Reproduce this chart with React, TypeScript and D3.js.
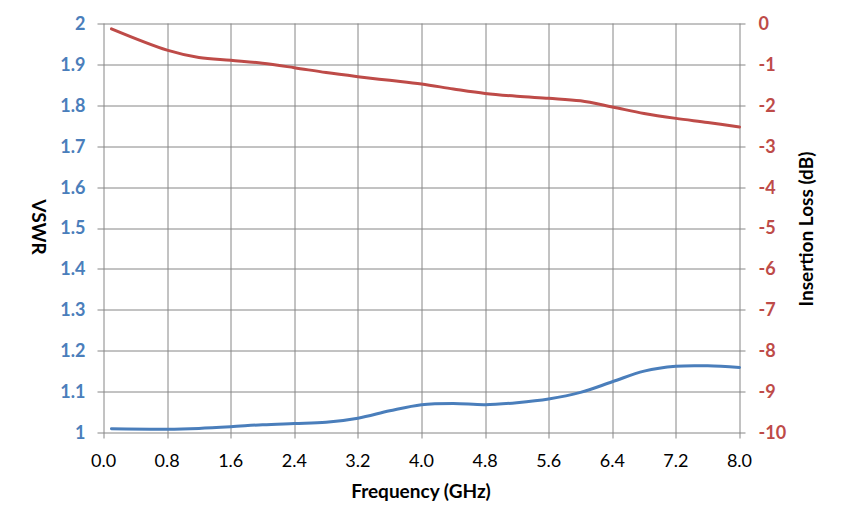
import { useEffect, useRef } from "react"
import * as d3 from "d3"

const freq = [0.1, 0.8, 1.2, 1.6, 2.0, 2.4, 2.8, 3.2, 3.6, 4.0, 4.4, 4.8, 5.2, 5.6, 6.0, 6.4, 6.8, 7.2, 7.6, 8.0]
const vswr = [1.009, 1.008, 1.010, 1.014, 1.019, 1.022, 1.025, 1.035, 1.053, 1.068, 1.071, 1.068, 1.073, 1.082, 1.098, 1.124, 1.150, 1.162, 1.163, 1.159]
const insertionLoss = [-0.13, -0.65, -0.83, -0.9, -0.97, -1.08, -1.2, -1.3, -1.39, -1.48, -1.6, -1.71, -1.78, -1.83, -1.89, -2.04, -2.2, -2.32, -2.42, -2.53]

const xTicks = [0, 0.8, 1.6, 2.4, 3.2, 4.0, 4.8, 5.6, 6.4, 7.2, 8.0]
const vswrTicks = [1, 1.1, 1.2, 1.3, 1.4, 1.5, 1.6, 1.7, 1.8, 1.9, 2]
const lossTicks = [0, -1, -2, -3, -4, -5, -6, -7, -8, -9, -10]

const BLUE = "#4A7EBB"
const RED = "#BE4B48"
const GRID = "#868686"
const FONT = "Lato, 'Open Sans', sans-serif"

export default function App() {
  const svgRef = useRef<SVGSVGElement>(null)

  useEffect(() => {
    document.body.style.margin = "0"
    if (!svgRef.current) return
    d3.select(svgRef.current).selectAll("*").remove()

    const W = 844
    const H = 529
    const margin = { top: 23.5, right: 104.5, bottom: 96.5, left: 103.5 }
    const width = W - margin.left - margin.right
    const height = H - margin.top - margin.bottom

    const svg = d3
      .select(svgRef.current)
      .attr("width", W)
      .attr("height", H)
      .append("g")
      .attr("transform", `translate(${margin.left},${margin.top})`)

    const x = d3.scaleLinear().domain([0, 8]).range([0, width])
    const yL = d3.scaleLinear().domain([1, 2]).range([height, 0])
    const yR = d3.scaleLinear().domain([-10, 0]).range([height, 0])

    // Horizontal grid with outer ticks on both sides
    svg
      .append("g")
      .selectAll("line")
      .data(vswrTicks)
      .enter()
      .append("line")
      .attr("x1", -6)
      .attr("x2", width + 6)
      .attr("y1", d => Math.round(yL(d)) + 0.5)
      .attr("y2", d => Math.round(yL(d)) + 0.5)
      .attr("stroke", GRID)
      .attr("stroke-width", 1)

    // Vertical grid with ticks below
    svg
      .append("g")
      .selectAll("line")
      .data(xTicks)
      .enter()
      .append("line")
      .attr("x1", d => Math.round(x(d)) + 0.5)
      .attr("x2", d => Math.round(x(d)) + 0.5)
      .attr("y1", 0)
      .attr("y2", height + 6)
      .attr("stroke", GRID)
      .attr("stroke-width", 1)

    // Left tick labels
    svg
      .append("g")
      .selectAll("text")
      .data(vswrTicks)
      .enter()
      .append("text")
      .attr("x", -18)
      .attr("y", d => yL(d))
      .attr("dy", "0.36em")
      .attr("text-anchor", "end")
      .attr("fill", BLUE)
      .attr("font-family", FONT)
      .attr("font-weight", "bold")
      .attr("font-size", "18px")
      .text(d => d3.format("")(d))

    // Right tick labels
    svg
      .append("g")
      .selectAll("text")
      .data(lossTicks)
      .enter()
      .append("text")
      .attr("x", width + 19)
      .attr("y", d => yR(d))
      .attr("dy", "0.36em")
      .attr("text-anchor", "start")
      .attr("fill", RED)
      .attr("font-family", FONT)
      .attr("font-weight", "bold")
      .attr("font-size", "18px")
      .text(d => String(d))

    // Bottom tick labels
    svg
      .append("g")
      .selectAll("text")
      .data(xTicks)
      .enter()
      .append("text")
      .attr("x", d => x(d))
      .attr("y", height + 34)
      .attr("text-anchor", "middle")
      .attr("fill", "#000")
      .attr("font-family", FONT)
      .attr("font-size", "18px")
      .text(d => d3.format(".1f")(d))

    const points = freq.map((f, i) => ({ f, v: vswr[i], l: insertionLoss[i] }))

    const lossLine = d3
      .line<typeof points[0]>()
      .x(d => x(d.f))
      .y(d => yR(d.l))
      .curve(d3.curveCatmullRom.alpha(0.5))

    const vswrLine = d3
      .line<typeof points[0]>()
      .x(d => x(d.f))
      .y(d => yL(d.v))
      .curve(d3.curveCatmullRom.alpha(0.5))

    svg
      .append("path")
      .datum(points)
      .attr("fill", "none")
      .attr("stroke", RED)
      .attr("stroke-width", 3)
      .attr("stroke-linecap", "round")
      .attr("d", lossLine)

    svg
      .append("path")
      .datum(points)
      .attr("fill", "none")
      .attr("stroke", BLUE)
      .attr("stroke-width", 3)
      .attr("stroke-linecap", "round")
      .attr("d", vswrLine)

    // Axis titles
    svg
      .append("text")
      .attr("x", width / 2 - 0.5)
      .attr("y", height + 65)
      .attr("text-anchor", "middle")
      .attr("font-family", FONT)
      .attr("font-weight", "bold")
      .attr("font-size", "19px")
      .attr("fill", "#000")
      .text("Frequency (GHz)")

    svg
      .append("text")
      .attr("transform", `translate(${38.5 - margin.left},${227 - margin.top}) rotate(90)`)
      .attr("text-anchor", "middle")
      .attr("dy", "0.36em")
      .attr("font-family", FONT)
      .attr("font-weight", "bold")
      .attr("font-size", "19px")
      .attr("fill", "#000")
      .text("VSWR")

    svg
      .append("text")
      .attr("transform", `translate(${806.5 - margin.left},${229 - margin.top}) rotate(-90)`)
      .attr("text-anchor", "middle")
      .attr("dy", "0.36em")
      .attr("font-family", FONT)
      .attr("font-weight", "bold")
      .attr("font-size", "19px")
      .attr("fill", "#000")
      .text("Insertion Loss (dB)")
  }, [])

  return <svg ref={svgRef} style={{ display: "block" }} />
}
